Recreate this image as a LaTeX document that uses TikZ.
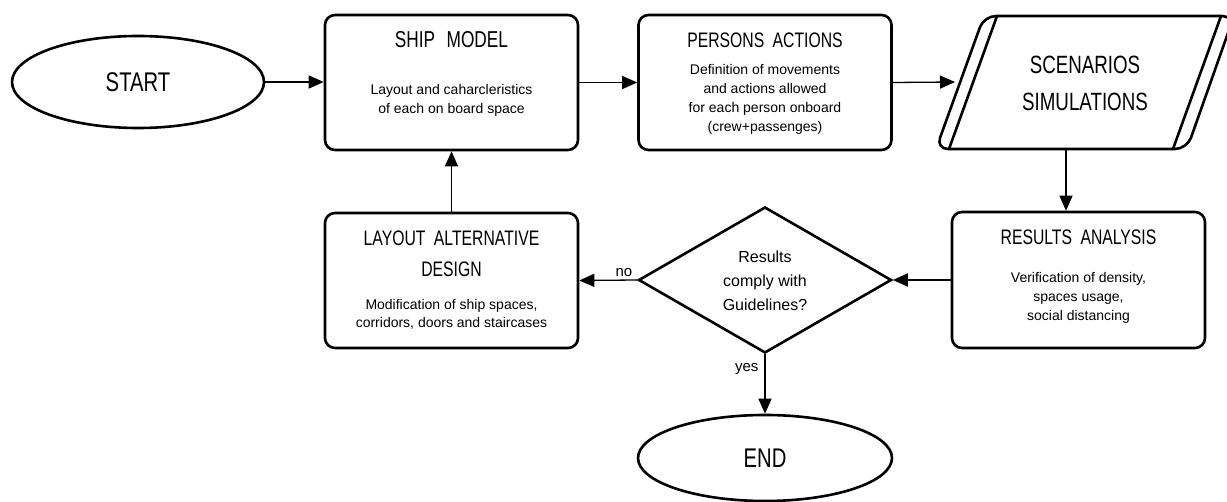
\documentclass[tikz,border=0pt]{standalone}
\usepackage{fontspec}
\setmainfont{Liberation Sans}
\newfontfamily\titlefont{Liberation Sans}[FakeStretch=0.75]
\usetikzlibrary{shapes.geometric,arrows.meta}
\begin{document}
\begin{tikzpicture}[x=1pt,y=-1pt,
  box/.style={draw, line width=2.6pt, rounded corners=10pt, minimum width=253pt, minimum height=135pt, inner sep=0pt},
  term/.style={draw, ellipse, line width=2.6pt, inner sep=0pt},
  conn/.style={line width=1.3pt, -{Triangle[length=15pt,width=13pt]}},
  ttl/.style={font=\titlefont\fontsize{21}{31}\selectfont, align=center, inner sep=0pt},
  body/.style={font=\fontsize{14}{19}\selectfont, align=center, inner sep=0pt},
  lbl/.style={font=\fontsize{15}{18}\selectfont, inner sep=0pt}]
\useasboundingbox (0,0) rectangle (1227,502);

% START
\node[term, minimum width=252pt, minimum height=92pt] (start) at (138,82) {\titlefont\fontsize{27}{30}\selectfont START};

% SHIP MODEL
\node[box] (ship) at (451.5,82.5) {};
\node[ttl, font=\titlefont\fontsize{23}{28}\selectfont] (shipT) at (451.5,40) {SHIP\hspace{0.5em}MODEL};
\node[body] (shipB) at (451.5,100) {Layout and caharcleristics\\of each on board space};

% PERSONS ACTIONS
\node[box] (pers) at (765,82.5) {};
\node[ttl] (persT) at (765,40) {PERSONS\hspace{0.4em}ACTIONS};
\node[body] (persB) at (765,99.5) {Definition of movements\\and actions allowed\\for each person onboard\\(crew+passenges)};

% SCENARIOS SIMULATIONS
\draw[line width=2.6pt, rounded corners=12pt] (984,16) -- (1234,16) -- (1187,149) -- (936,149) -- cycle;
\draw[line width=2.6pt] (997,16) -- (949,149) (1221,16) -- (1173,149);
\node[ttl, font=\titlefont\fontsize{25}{37}\selectfont] (scen) at (1085,83.5) {SCENARIOS\\SIMULATIONS};
\coordinate (scenW) at (955,82);
\coordinate (scenS) at (1066,149);

% RESULTS ANALYSIS
\node[box, minimum height=136pt] (res) at (1078.5,280) {};
\node[ttl] (resT) at (1078.5,237) {RESULTS\hspace{0.4em}ANALYSIS};
\node[body] (resB) at (1078.5,298) {Verification of density,\\spaces usage,\\social distancing};

% LAYOUT ALTERNATIVE DESIGN
\node[box] (lay) at (451.5,280.5) {};
\node[ttl] (layT) at (451.5,253.5) {LAYOUT\hspace{0.4em}ALTERNATIVE\\DESIGN};
\node[body, font=\fontsize{14}{18}\selectfont] (layB) at (451.5,314) {Modification of ship spaces,\\corridors, doors and staircases};

% Decision
\node[draw, diamond, line width=2.6pt, minimum width=253pt, minimum height=146pt, inner sep=0pt] (dia) at (765,280) {};
\node[body, font=\fontsize{16}{24}\selectfont] (diaT) at (765,281) {Results\\comply with\\Guidelines?};

% END
\node[term, minimum width=254pt, minimum height=86pt] (end) at (765,458) {\titlefont\fontsize{27}{30}\selectfont END};

% connectors
\draw[conn] (start.east) -- (start.east -| ship.west);
\draw[conn] (ship.east) -- (pers.west);
\draw[conn] (pers.east) -- (scenW);
\draw[conn] (scenS) -- (scenS |- res.north);
\draw[conn] (res.west) -- (dia.east);
\draw[conn] (dia.west) -- (lay.east) node[lbl, pos=0.23, above=3pt] (no) {no};
\draw[conn] (lay.north) -- (ship.south);
\draw[conn] (dia.south) -- (end.north) node[lbl, pos=0.24, left=6pt] (yes) {yes};
\end{tikzpicture}
\end{document}
